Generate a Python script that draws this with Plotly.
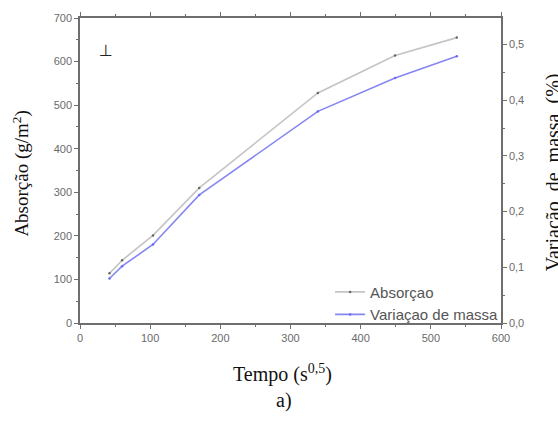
import plotly.graph_objects as go

# Tempo (s^0,5)
tempo = [42, 60, 104, 170, 339, 449, 537]
# Absorção (g/m²)
absorcao = [114, 144, 201, 310, 528, 614, 655]
# Variação de massa (%)
variacao = [0.08, 0.102, 0.141, 0.23, 0.38, 0.44, 0.479]

x_ticks = [0, 100, 200, 300, 400, 500, 600]
y_ticks = [0, 100, 200, 300, 400, 500, 600, 700]
y2_ticks = [0.0, 0.1, 0.2, 0.3, 0.4, 0.5]

axis_col = "#6e6e6e"
tick_font = dict(family="Liberation Sans, Arial", size=11, color="#6a6a6a")
serif = "Liberation Serif, Times New Roman"

fig = go.Figure()
fig.add_trace(go.Scatter(
    x=tempo, y=absorcao, name="Absorçao", mode="lines+markers",
    line=dict(color="#c4c4c4", width=1.6),
    marker=dict(color="#666666", size=2.5),
))
fig.add_trace(go.Scatter(
    x=tempo, y=variacao, name="Variaçao de massa", mode="lines+markers",
    yaxis="y2",
    line=dict(color="#8686f2", width=1.6),
    marker=dict(color="#6a6af0", size=2.5),
))

fig.update_layout(
    width=558, height=424,
    margin=dict(l=80, r=57, t=13, b=101),
    paper_bgcolor="white", plot_bgcolor="white",
    separators=",.",
    showlegend=True,
    legend=dict(x=1.005, y=-0.025, xanchor="right", yanchor="bottom",
                bgcolor="rgba(0,0,0,0)",
                font=dict(family="Liberation Sans, Arial", size=15, color="#555555"),
                itemwidth=30, tracegroupgap=0),
    xaxis=dict(range=[0, 600], tickvals=x_ticks, ticks="outside", ticklen=4,
               tickcolor=axis_col, showline=True, linecolor=axis_col, linewidth=1.5,
               mirror="ticks", showgrid=False, zeroline=False, tickfont=tick_font,
               minor=dict(ticks="outside", ticklen=2, dtick=50, tickcolor=axis_col)),
    yaxis=dict(range=[0, 700], tickvals=y_ticks, ticks="outside", ticklen=4,
               tickcolor=axis_col, showline=True, linecolor=axis_col, linewidth=1.5,
               showgrid=False, zeroline=False, tickfont=tick_font,
               minor=dict(ticks="outside", ticklen=2, dtick=50, tickcolor=axis_col)),
    yaxis2=dict(range=[0, 0.5477], tickvals=y2_ticks, tickformat=".1f",
                overlaying="y", side="right", ticks="outside", ticklen=4,
                tickcolor=axis_col, showline=True, linecolor=axis_col, linewidth=1.5,
                showgrid=False, zeroline=False, tickfont=tick_font,
                minor=dict(ticks="outside", ticklen=2, dtick=0.05, tickcolor=axis_col)),
)

fig.add_annotation(text="Absorção (g/m<sup>2</sup>)", xref="paper", yref="paper",
                   x=-0.14, y=0.49, textangle=-90, showarrow=False,
                   font=dict(family=serif, size=19, color="#111111"),
                   xanchor="center", yanchor="middle")
fig.add_annotation(text="Variação  de  massa  (%)", xref="paper", yref="paper",
                   x=1.124, y=0.495, textangle=-90, showarrow=False,
                   font=dict(family=serif, size=20, color="#111111"),
                   xanchor="center", yanchor="middle")
fig.add_annotation(text="Tempo (s<sup>0,5</sup>)", xref="paper", yref="paper",
                   x=0.48, y=-0.165, showarrow=False,
                   font=dict(family=serif, size=20, color="#111111"),
                   xanchor="center", yanchor="middle")
fig.add_annotation(text="a)", xref="paper", yref="paper",
                   x=0.485, y=-0.255, showarrow=False,
                   font=dict(family=serif, size=20, color="#111111"),
                   xanchor="center", yanchor="middle")
fig.add_annotation(text="⊥", xref="paper", yref="paper",
                   x=0.062, y=0.895, showarrow=False, xanchor="center", yanchor="middle",
                   font=dict(family="DejaVu Sans", size=16, color="#222222"))

fig.write_html("out.html")
